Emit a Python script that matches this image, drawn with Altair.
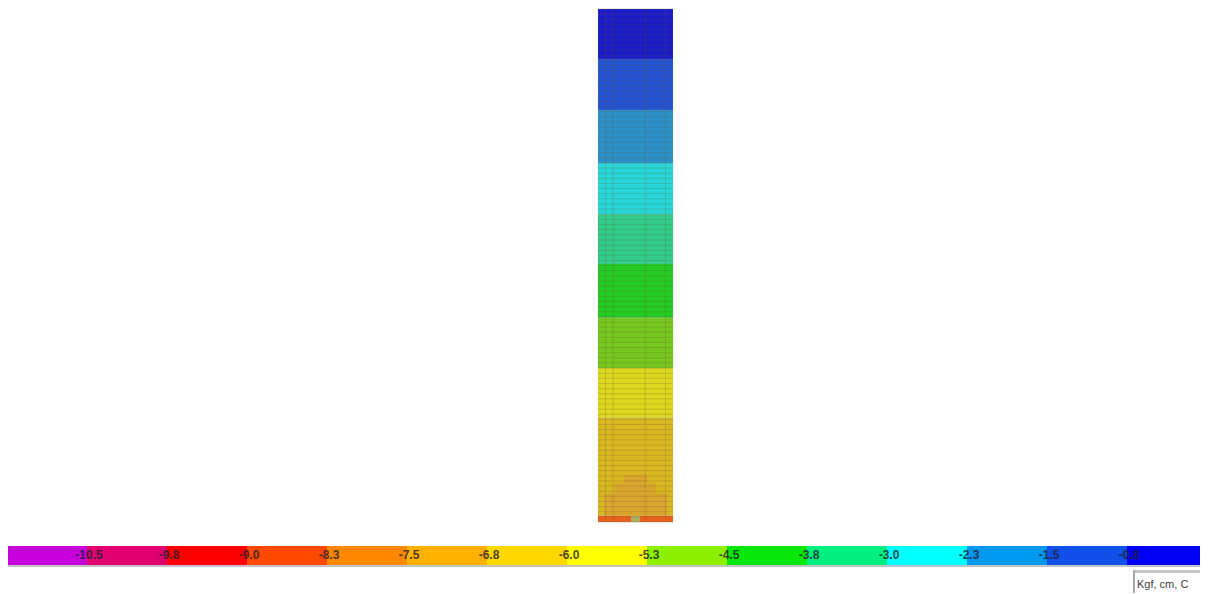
import altair as alt
import pandas as pd

# Contour bands along the column (percent of column height from the top)
band_top = [0, 9.75, 19.7, 30, 40, 49.7, 60.2, 70, 79.7, 98.8]
band_bottom = [9.75, 19.7, 30, 40, 49.7, 60.2, 70, 79.7, 98.8, 100]
band_names = ["b0", "b1", "b2", "b3", "b4", "b5", "b6", "b7", "b8", "b9"]
band_colors = ["#1a1cc6", "#2353d2", "#2a90c8", "#27d6d8", "#30cc88",
               "#22cc22", "#74c81e", "#dcd820", "#d8b820", "#e8601a"]

# Darker patch near the foot of the column
patch_left = [0.34, 0.22, 0.08]
patch_right = [0.66, 0.78, 0.92]
patch_top = [90.8, 92.5, 94.5]
patch_bottom = [92.5, 94.5, 98.8]

# Pale spot in the foot strip
spot_left = [0.44]
spot_right = [0.56]
spot_top = [98.8]
spot_bottom = [100]

# Element mesh
mesh_rows = list(range(0, 101))
mesh_cols = [0.1, 0.2, 0.63, 0.9]

# Colour bar
bin_low = [-11.25, -10.5, -9.75, -9.0, -8.25, -7.5, -6.75, -6.0, -5.25, -4.5, -3.75, -3.0, -2.25, -1.5, -0.75]
bin_high = [-10.5, -9.75, -9.0, -8.25, -7.5, -6.75, -6.0, -5.25, -4.5, -3.75, -3.0, -2.25, -1.5, -0.75, 0.0]
bin_colors = ["#c600d8", "#e00070", "#ff0000", "#ff4800", "#ff8800", "#ffb000", "#ffd800", "#ffff00",
              "#8cf000", "#08e808", "#00f080", "#00ffff", "#0098f0", "#1050e8", "#0000f4"]
tick_values = [-10.5, -9.75, -9.0, -8.25, -7.5, -6.75, -6.0, -5.25, -4.5, -3.75, -3.0, -2.25, -1.5, -0.75]
tick_labels = ["-10.5", "-9.8", "-9.0", "-8.3", "-7.5", "-6.8", "-6.0", "-5.3", "-4.5", "-3.8", "-3.0", "-2.3", "-1.5", "-0.8"]
unit_label = ["Kgf, cm, C"]

x_col = alt.Scale(domain=[0, 1], range=[590, 665])
y_col = alt.Scale(domain=[0, 100], range=[1, 514])
x_bar = alt.Scale(domain=[-11.25, 0], range=[-1, 1199])
no_axis = None

bands = pd.DataFrame({"top": band_top, "bottom": band_bottom, "band": band_names, "l": 0.0, "r": 1.0})
col_rect = alt.Chart(bands).mark_rect(stroke="#9aa0b0", strokeOpacity=0.25, strokeWidth=0.5).encode(
    x=alt.X("l:Q", scale=x_col, axis=no_axis),
    x2="r:Q",
    y=alt.Y("top:Q", scale=y_col, axis=no_axis),
    y2="bottom:Q",
    color=alt.Color("band:N", scale=alt.Scale(domain=band_names, range=band_colors), legend=None),
)
patch = alt.Chart(pd.DataFrame({"l": patch_left, "r": patch_right, "t": patch_top, "b": patch_bottom})).mark_rect(
    color="#d89c34", opacity=0.7
).encode(
    x=alt.X("l:Q", scale=x_col, axis=no_axis), x2="r:Q",
    y=alt.Y("t:Q", scale=y_col, axis=no_axis), y2="b:Q",
)
spot = alt.Chart(pd.DataFrame({"l": spot_left, "r": spot_right, "t": spot_top, "b": spot_bottom})).mark_rect(
    color="#a0c070", opacity=0.8
).encode(
    x=alt.X("l:Q", scale=x_col, axis=no_axis), x2="r:Q",
    y=alt.Y("t:Q", scale=y_col, axis=no_axis), y2="b:Q",
)
rows = alt.Chart(pd.DataFrame({"row": mesh_rows, "l": 0.0, "r": 1.0})).mark_rule(
    color="#705030", opacity=0.22, strokeWidth=1
).encode(
    x=alt.X("l:Q", scale=x_col, axis=no_axis), x2="r:Q",
    y=alt.Y("row:Q", scale=y_col, axis=no_axis),
)
cols = alt.Chart(pd.DataFrame({"col": mesh_cols, "t": 0.0, "b": 100.0})).mark_rule(
    color="#705030", opacity=0.2, strokeWidth=1
).encode(
    x=alt.X("col:Q", scale=x_col, axis=no_axis),
    y=alt.Y("t:Q", scale=y_col, axis=no_axis), y2="b:Q",
)
column = alt.layer(col_rect, patch, spot, rows, cols)

bins = pd.DataFrame({"low": bin_low, "high": bin_high, "c": [str(v) for v in bin_low]})
shadow = alt.Chart(bins).mark_rect(color="#9a9aa0", opacity=0.6).encode(
    x=alt.X("low:Q", scale=x_bar, axis=no_axis), x2="high:Q",
    y=alt.value(557), y2=alt.value(559),
)
bar = alt.Chart(bins).mark_rect().encode(
    x=alt.X("low:Q", scale=x_bar, axis=no_axis), x2="high:Q",
    y=alt.value(538), y2=alt.value(557),
    color=alt.Color("c:N", scale=alt.Scale(domain=[str(v) for v in bin_low], range=bin_colors), legend=None),
)
ticks = alt.Chart(pd.DataFrame({"v": tick_values, "t": tick_labels})).mark_text(
    font="Liberation Sans", fontWeight="bold", fontSize=12, color="#202030", opacity=0.8,
    align="center", baseline="middle", dx=2
).encode(
    x=alt.X("v:Q", scale=x_bar, axis=no_axis),
    y=alt.value(547),
    text="t:N",
)
scale_bar = alt.layer(shadow, bar, ticks).resolve_scale(color="independent")

unit_df = pd.DataFrame({"t": unit_label})
box_shade = alt.Chart(unit_df).mark_rect(color="#c4c4c4").encode(
    x=alt.value(1125), x2=alt.value(1192), y=alt.value(562), y2=alt.value(565),
)
box_left = alt.Chart(unit_df).mark_rect(color="#a8a8a8").encode(
    x=alt.value(1125), x2=alt.value(1127), y=alt.value(562), y2=alt.value(585),
)
unit_text = alt.Chart(unit_df).mark_text(
    font="Liberation Sans", fontSize=11, color="#404048", align="left", baseline="middle"
).encode(x=alt.value(1129), y=alt.value(577), text="t:N")

chart = alt.layer(column, scale_bar, box_shade, box_left, unit_text).resolve_scale(
    x="independent", y="independent", color="independent"
).properties(
    width=1192, height=586, padding=0, background="white",
    autosize=alt.AutoSizeParams(type="none"),
).configure_view(stroke=None)

chart.save("out.html", embed_options={"renderer": "svg", "actions": False})
